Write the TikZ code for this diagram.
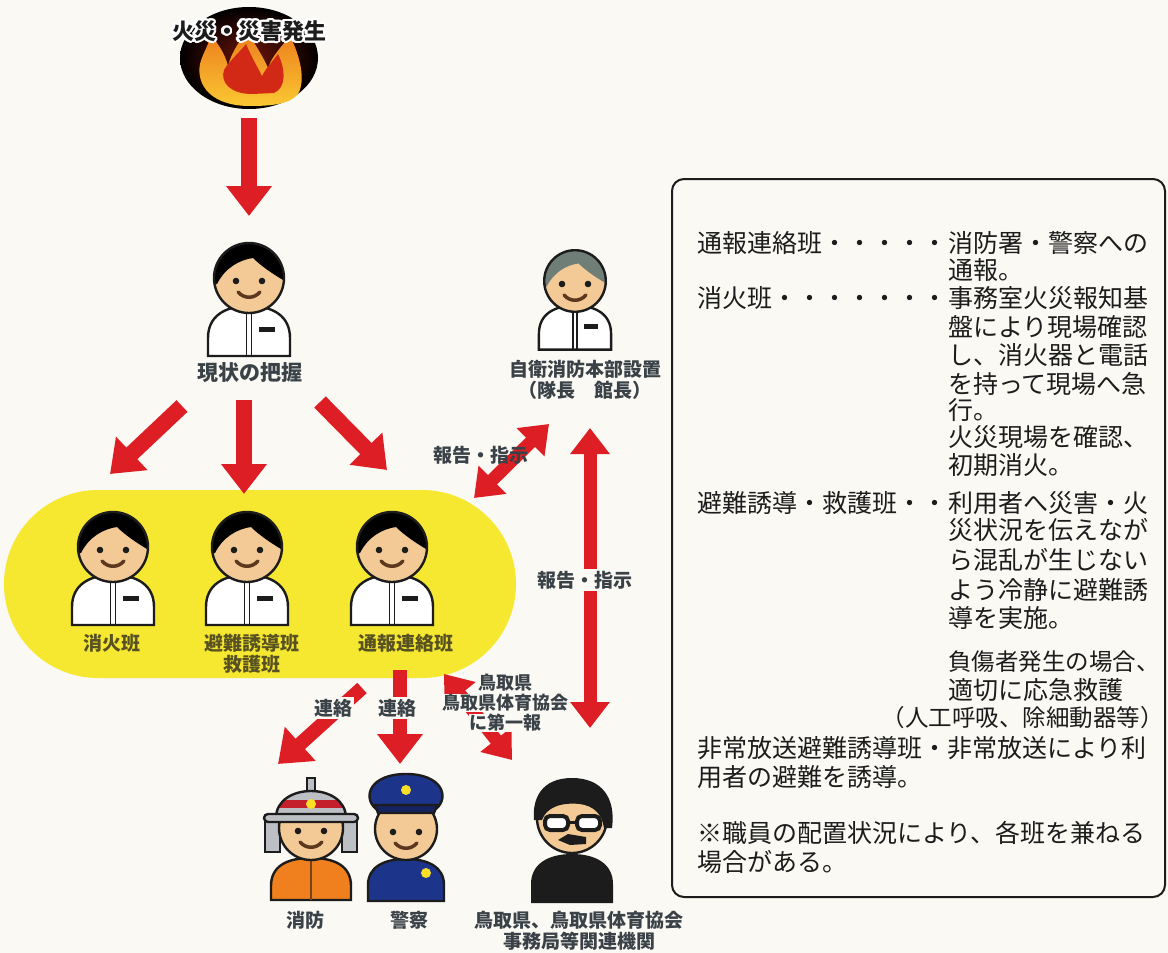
\documentclass[tikz,border=0pt]{standalone}
\usepackage{fontspec}
\setmainfont{Noto Sans CJK JP}
\usepackage{contour}
\contourlength{2.2pt}
\usetikzlibrary{arrows.meta}

\definecolor{bg}{RGB}{250,249,244}
\definecolor{arrowred}{RGB}{221,30,36}
\definecolor{pillyellow}{RGB}{246,232,48}
\definecolor{labelgray}{RGB}{58,66,72}
\definecolor{labelolive}{RGB}{88,82,34}
\definecolor{ink}{RGB}{28,28,28}
\definecolor{skin}{RGB}{243,202,150}
\definecolor{mouth}{RGB}{92,56,30}
\definecolor{grayhair}{RGB}{112,126,120}
\definecolor{fireorange}{RGB}{240,128,30}
\definecolor{navy}{RGB}{28,52,138}
\definecolor{helmet}{RGB}{188,192,196}
\definecolor{bandred}{RGB}{196,32,44}
\definecolor{badge}{RGB}{250,222,40}
\definecolor{firecore}{RGB}{110,20,8}
\definecolor{flametop}{RGB}{236,120,28}
\definecolor{flamebase}{RGB}{250,200,50}
\definecolor{flamein}{RGB}{210,40,22}

\tikzset{
  outline/.style={draw=ink, line width=2.4pt},
  redarrow/.style={draw=arrowred, line width=16pt, -{Triangle[length=30pt,width=44pt]}},
  redboth/.style={draw=arrowred, line width=13pt, {Triangle[length=26pt,width=38pt]}-{Triangle[length=26pt,width=38pt]}},
  lbl/.style={font=\bfseries\fontsize{19}{21}\selectfont, text=labelgray, inner sep=1pt, align=center},
  pilllbl/.style={lbl, text=labelolive},
  tag/.style={lbl, fill=bg, inner sep=2pt},
  boxtext/.style={font=\fontsize{25}{28}\selectfont, text=ink, anchor=west, inner sep=0pt},
  pics/face/.style={code={
    \fill[ink] (-13,3) circle (3.3) (13,3) circle (3.3);
    \draw[mouth, line width=3.5pt, line cap=round] (-11,14) .. controls (-5,21) and (5,21) .. (11,14);
  }},
  pics/staff/.style={code={
    \draw[outline, fill=white] (-41,78) -- (-41,60) .. controls (-41,38) and (-24,28) .. (0,28) .. controls (24,28) and (41,38) .. (41,60) -- (41,78) -- cycle;
    \draw[ink, line width=1.5pt] (-2.5,30) -- (-2.5,78) (2.5,30) -- (2.5,78);
    \fill[ink] (10,49) rectangle (26,54);
    \fill[skin] (0,0) circle (35);
    \begin{scope}
      \clip (0,0) circle (35);
      \fill[#1] (-40,6) -- (-32,6) .. controls (-24,-10) and (-10,-18) .. (4,-20) .. controls (12,-12) and (24,-4) .. (34,2) -- (40,2) -- (40,-40) -- (-40,-40) -- cycle;
    \end{scope}
    \draw[outline] (0,0) circle (35);
    \pic {face};
  }},
  pics/firefighter/.style={code={
    \draw[outline, fill=helmet] (-46,-10) rectangle (-31,24);
    \draw[outline, fill=helmet] (31,-10) rectangle (46,24);
    \draw[outline, fill=fireorange] (-40,72) -- (-40,58) .. controls (-40,38) and (-24,30) .. (0,30) .. controls (24,30) and (40,38) .. (40,58) -- (40,72) -- cycle;
    \draw[ink!60!fireorange, line width=2pt] (0,32) -- (0,72);
    \draw[outline, fill=skin] (0,0) circle (32);
    \pic {face};
    \draw[outline, fill=helmet] (-4,-50) rectangle (4,-32);
    \begin{scope}
      \clip (-35,-10) .. controls (-35,-46) and (35,-46) .. (35,-10) -- cycle;
      \fill[helmet] (-40,-60) rectangle (40,-8);
      \fill[bandred] (-40,-28) rectangle (40,-20);
    \end{scope}
    \draw[outline] (-35,-10) .. controls (-35,-46) and (35,-46) .. (35,-10);
    \draw[outline, fill=helmet, rounded corners=4] (-47,-14) rectangle (47,-6);
    \fill[badge] (0,-24) circle (5);
  }},
  pics/police/.style={code={
    \draw[outline, fill=navy] (-38,72) -- (-38,56) .. controls (-38,38) and (-22,30) .. (0,30) .. controls (22,30) and (38,38) .. (38,56) -- (38,72) -- cycle;
    \fill[badge] (20,44) circle (5);
    \draw[outline, fill=skin] (0,0) circle (31);
    \pic {face};
    \draw[outline, fill=navy] (-30,-20) .. controls (-44,-32) and (-36,-55) .. (0,-55) .. controls (36,-55) and (44,-32) .. (30,-20) -- cycle;
    \draw[outline, fill=navy!70!black] (-31,-24) -- (31,-24) -- (28,-16) -- (-28,-16) -- cycle;
    \fill[badge] (0,-39) circle (5);
  }},
  pics/official/.style={code={
    \fill[ink] (-41,85) -- (-41,66) .. controls (-41,46) and (-24,36) .. (0,36) .. controls (24,36) and (41,46) .. (41,66) -- (41,85) -- cycle;
    \draw[outline, fill=skin] (0,0) circle (35);
    \fill[ink] (-38,2) -- (-30,2) .. controls (-26,-10) and (-12,-16) .. (8,-14) .. controls (22,-12) and (30,-4) .. (32,10) -- (40,10) .. controls (44,-20) and (30,-40) .. (0,-40) .. controls (-30,-40) and (-40,-20) .. (-38,2) -- cycle;
    \draw[ink, line width=4pt, fill=white, rounded corners=5] (-27,-2) rectangle (-4,12) (5,-2) rectangle (28,12);
    \draw[ink, line width=3pt] (-4,4) -- (5,4);
    \fill[ink] (-14,22) -- (-4,16) -- (14,19) -- (14,26) -- (-2,27) -- cycle;
  }},
}

\begin{document}
\begin{tikzpicture}[x=1pt,y=-1pt]
\useasboundingbox (0,0) rectangle (1168,953);
\fill[bg] (0,0) rectangle (1168,953);

% fire mark
\shade[inner color=firecore, outer color=black] (249,58) ellipse (69 and 51);
\shade[top color=flametop, bottom color=flamebase] (250,106) .. controls (212,106) and (196,86) .. (200,64) .. controls (203,52) and (210,44) .. (210,34) .. controls (222,48) and (226,58) .. (228,66) .. controls (232,50) and (242,40) .. (246,28) .. controls (254,44) and (262,54) .. (268,68) .. controls (272,56) and (282,46) .. (290,36) .. controls (300,56) and (306,80) .. (298,94) .. controls (290,104) and (272,106) .. (250,106) -- cycle;
\fill[flamein] (252,94) .. controls (230,94) and (220,82) .. (224,70) .. controls (230,60) and (240,52) .. (246,44) .. controls (252,58) and (258,68) .. (262,76) .. controls (266,68) and (272,62) .. (278,54) .. controls (286,70) and (286,88) .. (274,93) -- cycle;
\node[font=\bfseries\fontsize{22}{24}\selectfont, text=ink] (fire) at (249,32) {\contour{white}{火災・災害発生}};

% team area
\fill[pillyellow, rounded corners=94] (4,490) rectangle (516,678);

% people
\pic at (249,278) {staff=black};
\pic at (113,547) {staff=black};
\pic at (247,547) {staff=black};
\pic at (392,547) {staff=black};
\pic[scale=0.88] at (575,281) {staff=grayhair};
\pic at (311,828) {firefighter};
\pic at (406,829) {police};
\pic at (572,818) {official};

\node[lbl, font=\bfseries\fontsize{21}{23}\selectfont] (grasp) at (250,373) {現状の把握};
\node[lbl] (hq) at (585,380) {自衛消防本部設置\\（隊長　館長）};
\node[pilllbl] (fight) at (112,643) {消火班};
\node[pilllbl] (guide) at (252,654) {避難誘導班\\救護班};
\node[pilllbl] (notify) at (406,643) {通報連絡班};
\node[lbl] (fd) at (305,920) {消防};
\node[lbl] (police) at (409,920) {警察};
\node[lbl] (agency) at (579,931) {鳥取県、鳥取県体育協会\\事務局等関連機関};

% arrows
\coordinate (fire-out) at (249,118);
\coordinate (grasp-in) at (249,216);
\coordinate (grasp-l) at (182,406);
\coordinate (grasp-m) at (244,400);
\coordinate (grasp-r) at (320,402);
\coordinate (fight-in) at (110,474);
\coordinate (guide-in) at (244,494);
\coordinate (notify-in) at (387,470);
\coordinate (hq-a) at (549,424);
\coordinate (team-a) at (474,498);
\coordinate (hq-b) at (590,428);
\coordinate (bottom-b) at (590,728);
\coordinate (notify-l) at (362,688);
\coordinate (notify-m) at (400,670);
\coordinate (notify-r) at (444,674);
\coordinate (fd-in) at (278,764);
\coordinate (police-in) at (400,764);
\coordinate (agency-in) at (512,760);

\draw[redarrow] (fire-out) -- (grasp-in);
\draw[redarrow] (grasp-l) -- (fight-in);
\draw[redarrow] (grasp-m) -- (guide-in);
\draw[redarrow] (grasp-r) -- (notify-in);
\draw[redboth] (hq-a) -- (team-a);
\draw[redboth] (hq-b) -- (bottom-b);
\draw[redarrow, line width=14pt] (notify-l) -- (fd-in);
\draw[redarrow, line width=14pt] (notify-m) -- (police-in);
\draw[redboth] (notify-r) -- (agency-in);

\node[lbl] (report1) at (481,455) {報告・指示};
\node[tag] (report2) at (585,580) {報告・指示};
\node[tag] (call1) at (333,708) {連絡};
\node[tag] (call2) at (397,708) {連絡};
\node[tag, font=\bfseries\fontsize{18}{20}\selectfont, inner sep=0.5pt] (first1) at (505,683) {鳥取県};
\node[tag, font=\bfseries\fontsize{18}{20}\selectfont, inner sep=0.5pt] (first2) at (505,703) {鳥取県体育協会};
\node[tag, font=\bfseries\fontsize{18}{20}\selectfont, inner sep=0.5pt] (first3) at (505,723) {に第一報};

% roles
\draw[ink, line width=2pt, rounded corners=12] (672,179) rectangle (1165,897);
\node[boxtext] (k1) at (697,243) {通報連絡班・・・・・};
\node[boxtext] (k2) at (697,298) {消火班・・・・・・・};
\node[boxtext] (k3) at (697,503) {避難誘導・救護班・・};
\node[boxtext] (k4) at (697,748) {非常放送避難誘導班・非常放送により利};
\node[boxtext] (k5) at (697,777) {用者の避難を誘導。};
\node[boxtext] (k6) at (697,833) {※職員の配置状況により、各班を兼ねる};
\node[boxtext] (k7) at (697,862) {場合がある。};
\foreach \y/\t [count=\i] in {243/消防署・警察への, 270/通報。, 298/事務室火災報知基, 327/盤により現場確認, 355/し、消火器と電話, 384/を持って現場へ急, 410/行。, 437/火災現場を確認、, 465/初期消火。, 503/利用者へ災害・火, 530/災状況を伝えなが, 560/ら混乱が生じない, 590/よう冷静に避難誘, 618/導を実施。, 690/適切に応急救護}
  \node[boxtext] (d\i) at (948,\y) {\t};
\node[boxtext, font=\fontsize{23.5}{28}\selectfont] (k8) at (948,662) {負傷者発生の場合、};
\node[boxtext, font=\fontsize{23.5}{28}\selectfont, anchor=east] (k9) at (1164,718) {（人工呼吸、除細動器等）};
\end{tikzpicture}
\end{document}
